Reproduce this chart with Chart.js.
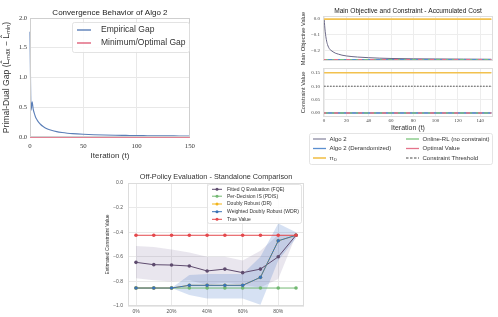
<!DOCTYPE html>
<html><head><meta charset="utf-8">
<script src="https://cdn.jsdelivr.net/npm/chart.js@4.4.1/dist/chart.umd.min.js"></script>
<style>
html,body{margin:0;padding:0;background:#fff;width:498px;height:317px;overflow:hidden;position:relative;}
canvas{position:absolute;}
</style></head><body>
<canvas id="c1" width="200" height="165" style="left:0;top:0"></canvas>
<canvas id="c2a" width="248" height="72" style="left:250px;top:0"></canvas>
<canvas id="c2b" width="248" height="106" style="left:250px;top:62px"></canvas>
<canvas id="c3" width="215" height="165" style="left:100px;top:162px"></canvas>
<script>
// ---------- Chart 1 data: Convergence Behavior of Algo 2 ----------
const gapIterations = [0,1,2,3,4,5,6,7,8,10,12,14,17,20,25,30,35,40,50,60,70,80,90,100,110,120,130,140,150];
const empiricalGap = [1.77,0.45,0.59,0.47,0.40,0.345,0.305,0.275,0.25,0.21,0.18,0.157,0.132,0.113,0.09,0.075,0.064,0.056,0.046,0.039,0.034,0.030,0.027,0.024,0.022,0.020,0.019,0.018,0.017];
const minGapIterations = [0,150];
const minGap = [0,0];
const gapXTicks = [0,50,100,150];
const gapXTickLabels = ['0','50','100','150'];
const gapYTicks = [0,0.5,1.0,1.5,2.0];
const gapYTickLabels = ['0.0','0.5','1.0','1.5','2.0'];

// ---------- Chart 2 data: Main Objective and Constraint ----------
const iterAxis = [0,1,2,3,4,5,6,8,10,13,16,20,25,30,40,50,60,80,100,125,150];
const algo2Objective = [0.0,-0.08,-0.13,-0.16,-0.178,-0.19,-0.197,-0.207,-0.215,-0.222,-0.228,-0.233,-0.237,-0.240,-0.244,-0.247,-0.249,-0.251,-0.252,-0.253,-0.254];
const flatIterations = [0,150];
const derandObjective = [-0.257,-0.257];
const piDObjective = [0.0,0.0];
const onlineRLObjective = [-0.257,-0.257];
const optimalObjective = [-0.257,-0.257];
const algo2Constraint = [0.0,0.0];
const derandConstraint = [0.0,0.0];
const piDConstraint = [0.15,0.15];
const onlineRLConstraint = [0.0,0.0];
const optimalConstraint = [0.0,0.0];
const constraintThreshold = [0.10,0.10];
const iterXTicks = [0,20,40,60,80,100,120,140];
const iterXTickLabels = ['0','20','40','60','80','100','120','140'];
const objYTicks = [-0.2,-0.1,0.0];
const objYTickLabels = ['\u22120.2','\u22120.1','0.0'];
const conYTicks = [0,0.05,0.10,0.15];
const conYTickLabels = ['0.00','0.05','0.10','0.15'];

// ---------- Chart 3 data: Off-Policy Evaluation ----------
const evalFractions = [0,10,20,30,40,50,60,70,80,90];
const fqe      = [-0.645,-0.664,-0.667,-0.675,-0.715,-0.700,-0.729,-0.700,-0.600,-0.425];
const fqeUpper = [-0.512,-0.520,-0.540,-0.565,-0.600,-0.600,-0.630,-0.550,-0.420,-0.425];
const fqeLower = [-0.775,-0.790,-0.800,-0.790,-0.830,-0.810,-0.830,-0.850,-0.780,-0.425];
const pdis     = [-0.854,-0.854,-0.854,-0.854,-0.854,-0.854,-0.854,-0.854,-0.854,-0.854];
const dr       = [-0.854,-0.854,-0.854,-0.832,-0.832,-0.832,-0.832,-0.767,-0.470,-0.425];
const wdr      = [-0.854,-0.854,-0.854,-0.832,-0.832,-0.832,-0.832,-0.767,-0.470,-0.425];
const wdrUpper = [-0.854,-0.854,-0.854,-0.748,-0.740,-0.740,-0.740,-0.600,-0.330,-0.400];
const wdrLower = [-0.854,-0.854,-0.854,-0.910,-0.940,-0.940,-0.940,-0.990,-0.630,-0.450];
const trueValue = [-0.425,-0.425,-0.425,-0.425,-0.425,-0.425,-0.425,-0.425,-0.425,-0.425];
const opeXTicks = [0,20,40,60,80];
const opeXTickLabels = ['0%','20%','40%','60%','80%'];
const opeYTicks = [-1.0,-0.8,-0.6,-0.4,-0.2,0.0];
const opeYTickLabels = ['\u22121.0','\u22120.8','\u22120.6','\u22120.4','\u22120.2','0.0'];

// ---------- helpers ----------
const pts = (xs, ys) => xs.map((x, i) => ({x: x, y: ys[i]}));
const SANS = '"Liberation Sans", Arial, sans-serif';
const SERIF = '"Liberation Serif", "DejaVu Serif", serif';
Chart.defaults.font.family = SANS;
Chart.defaults.color = '#333';
Chart.defaults.animation = false;

const framePlugin = {
  id: 'frame',
  afterDatasetsDraw(chart, args, o) {
    if (!o || !o.color) return;
    const a = chart.chartArea, ctx = chart.ctx;
    ctx.save();
    ctx.strokeStyle = o.color; ctx.lineWidth = o.width || 1;
    ctx.strokeRect(Math.round(a.left) + 0.5, Math.round(a.top) + 0.5,
                   Math.round(a.right - a.left) - 1, Math.round(a.bottom - a.top) - 1);
    ctx.restore();
  }
};
const boxLegend = {
  id: 'boxLegend',
  afterDraw(chart, args, o) {
    if (!o || !o.box) return;
    const ctx = chart.ctx;
    const [bx, by, bw, bh] = o.box;
    ctx.save();
    ctx.beginPath();
    if (ctx.roundRect) ctx.roundRect(bx + 0.5, by + 0.5, bw, bh, o.radius || 2);
    else ctx.rect(bx + 0.5, by + 0.5, bw, bh);
    ctx.fillStyle = 'rgba(255,255,255,0.85)';
    ctx.fill();
    ctx.strokeStyle = o.borderColor || '#dddddd'; ctx.lineWidth = 0.8; ctx.stroke();
    const items = chart.data.datasets.filter(d => d.inLegend !== false);
    const nRows = o.rows.length;
    items.forEach((d, i) => {
      const x = o.cols[Math.floor(i / nRows)], y = o.rows[i % nRows];
      ctx.beginPath();
      ctx.setLineDash(d.legendDash || d.borderDash || []);
      ctx.strokeStyle = d.borderColor;
      ctx.lineWidth = d.legendWidth || d.borderWidth || 1;
      ctx.moveTo(x, y); ctx.lineTo(x + o.lineLen, y); ctx.stroke();
      ctx.setLineDash([]);
      if (o.marker) {
        ctx.beginPath(); ctx.arc(x + o.lineLen / 2, y, o.markerR, 0, 2 * Math.PI);
        ctx.fillStyle = d.pointBackgroundColor || d.borderColor; ctx.fill();
      }
      ctx.fillStyle = o.color || '#333';
      ctx.textBaseline = 'middle'; ctx.textAlign = 'left';
      const f = o.font;
      ctx.font = f.size + 'px ' + f.family;
      const tx = x + o.lineLen + o.gap;
      const parts = d.label.split('_');
      ctx.fillText(parts[0], tx, y);
      if (parts[1]) {
        const w = ctx.measureText(parts[0]).width;
        ctx.font = (f.size * 0.7) + 'px ' + f.family;
        ctx.fillText(parts[1], tx + w + 0.3, y + f.size * 0.3);
      }
    });
    ctx.restore();
  }
};
Chart.register(framePlugin, boxLegend);

const fixW = w => s => { s.width = w; };
const fixH = h => s => { s.height = h; };
const setTicks = vals => s => { s.ticks = vals.map(v => ({value: v})); };
const titleAxis = (text, h, size, padTop, color) => ({
  type: 'linear', position: 'top', display: true, min: 0, max: 1,
  afterFit: fixH(h),
  ticks: {display: false}, grid: {display: false, drawTicks: false}, border: {display: false},
  title: {display: true, text: text, color: color || '#222', font: {size: size, family: SANS}, padding: {top: padTop, bottom: 0}}
});
const baseOpts = {
  responsive: false, animation: false, events: [],
  plugins: {legend: {display: false}, tooltip: {enabled: false}, title: {display: false}}
};
const XY = {xAxisID: 'x', yAxisID: 'y'};

// ---------- Chart 1 ----------
new Chart(document.getElementById('c1'), {
  type: 'line',
  data: {datasets: [
    Object.assign({label: 'Empirical Gap', data: pts(gapIterations, empiricalGap), borderColor: '#5b7fb8', borderWidth: 1.1,
     legendWidth: 1.4, pointRadius: 0, cubicInterpolationMode: 'monotone', clip: false, order: 2}, XY),
    Object.assign({label: 'Minimum/Optimal Gap', data: pts(minGapIterations, minGap), borderColor: '#e0607a', borderWidth: 1.4,
     pointRadius: 0, clip: false, order: 1}, XY)
  ]},
  options: Object.assign({}, baseOpts, {
    layout: {padding: {left: 0, right: 6, top: 0, bottom: 0}},
    plugins: Object.assign({}, baseOpts.plugins, {
      frame: {color: '#cfcfcf', width: 1},
      boxLegend: {box: [72, 22, 117, 30], rows: [30, 43], cols: [77], lineLen: 14, gap: 10,
                  font: {size: 8.5, family: SANS}, color: '#333', borderColor: '#dcdcdc'}
    }),
    scales: {
      x: {type: 'linear', min: 0, max: 150, afterFit: fixH(28), afterBuildTicks: setTicks(gapXTicks),
          grid: {color: '#e8e8e8', drawTicks: false}, border: {display: false},
          ticks: {autoSkip: false, maxRotation: 0, padding: 5, color: '#333', font: {size: 6.8, family: SERIF},
                  callback: (v, i) => gapXTickLabels[i]},
          title: {display: true, text: 'Iteration (t)', color: '#333', font: {size: 8, family: SANS}, padding: {top: 0, bottom: 4.7}}},
      y: {type: 'linear', min: 0, max: 2, afterFit: fixW(30), afterBuildTicks: setTicks(gapYTicks),
          grid: {color: '#e8e8e8', drawTicks: false}, border: {display: false},
          ticks: {autoSkip: false, padding: 3, color: '#333', font: {size: 6.5, family: SERIF},
                  callback: (v, i) => gapYTickLabels[i]},
          title: {display: true, text: 'Primal-Dual Gap (L\u0302\u2098\u2090\u2093 \u2212 L\u0302\u2098\u1D62\u2099)', color: '#333',
                  font: {size: 8.6, family: SANS}, padding: {top: 1, bottom: 0}}},
      xt: titleAxis('Convergence Behavior of Algo 2', 18, 8, 7.7)
    }
  })
});

// ---------- Chart 2 colours ----------
const cAlgo2 = '#6b6987', cDerand = '#5b8fd0', cPiD = '#f2c14e', cOnline = '#7cc47c', cOptimal = '#e5738a', cThresh = '#333333';

// ---------- Chart 2 top ----------
new Chart(document.getElementById('c2a'), {
  type: 'line',
  data: {datasets: [
    Object.assign({label: 'Algo 2', data: pts(iterAxis, algo2Objective), borderColor: cAlgo2, borderWidth: 1, pointRadius: 0, cubicInterpolationMode: 'monotone', order: 5}, XY),
    Object.assign({label: 'Algo 2 (Derandomized)', data: pts(flatIterations, derandObjective), borderColor: cDerand, borderWidth: 1.3, pointRadius: 0, order: 4}, XY),
    Object.assign({label: 'π_D', data: pts(flatIterations, piDObjective), borderColor: cPiD, borderWidth: 1.6, pointRadius: 0, order: 3}, XY),
    Object.assign({label: 'Online-RL (no constraint)', data: pts(flatIterations, onlineRLObjective), borderColor: cOnline, borderWidth: 1.3, borderDash: [4, 4], pointRadius: 0, order: 2}, XY),
    Object.assign({label: 'Optimal Value', data: pts(flatIterations, optimalObjective), borderColor: cOptimal, borderWidth: 1.3, borderDash: [4, 8], borderDashOffset: 2, pointRadius: 0, order: 1}, XY)
  ]},
  options: Object.assign({}, baseOpts, {
    layout: {padding: {left: 48, right: 5, top: 0, bottom: 10}},
    plugins: Object.assign({}, baseOpts.plugins, {frame: {color: '#dddddd', width: 1}}),
    scales: {
      x: {type: 'linear', min: -1, max: 151.5, afterFit: fixH(1), afterBuildTicks: setTicks(iterXTicks),
          grid: {color: '#ededed', drawTicks: false}, border: {display: false}, ticks: {display: false}},
      y: {type: 'linear', min: -0.265, max: 0.02, afterFit: fixW(25), afterBuildTicks: setTicks(objYTicks),
          grid: {color: '#ededed', drawTicks: false}, border: {display: false},
          ticks: {autoSkip: false, padding: 3, color: '#444', font: {size: 5, family: SERIF}, callback: (v, i) => objYTickLabels[i]},
          title: {display: true, text: 'Main Objective Value', color: '#333', font: {size: 5.7, family: SANS}, padding: {top: 1.6, bottom: 0}}},
      xt: titleAxis('Main Objective and Constraint - Accumulated Cost', 16, 6.6, 7.6)
    }
  })
});

// ---------- Chart 2 bottom ----------
new Chart(document.getElementById('c2b'), {
  type: 'line',
  data: {datasets: [
    Object.assign({label: 'Algo 2', data: pts(flatIterations, algo2Constraint), borderColor: cAlgo2, borderWidth: 1, pointRadius: 0, order: 6}, XY),
    Object.assign({label: 'Algo 2 (Derandomized)', data: pts(flatIterations, derandConstraint), borderColor: cDerand, borderWidth: 1.3, pointRadius: 0, order: 5}, XY),
    Object.assign({label: 'π_D', data: pts(flatIterations, piDConstraint), borderColor: cPiD, borderWidth: 1.6, pointRadius: 0, order: 4}, XY),
    Object.assign({label: 'Online-RL (no constraint)', data: pts(flatIterations, onlineRLConstraint), borderColor: cOnline, borderWidth: 1.3, borderDash: [4, 4], legendDash: [], pointRadius: 0, order: 3}, XY),
    Object.assign({label: 'Optimal Value', data: pts(flatIterations, optimalConstraint), borderColor: cOptimal, borderWidth: 1.3, borderDash: [4, 8], borderDashOffset: 2, legendDash: [], pointRadius: 0, order: 2}, XY),
    Object.assign({label: 'Constraint Threshold', data: pts(flatIterations, constraintThreshold), borderColor: cThresh, borderWidth: 0.9, borderDash: [1.5, 1.5], legendDash: [2.5, 1.5], pointRadius: 0, order: 1}, XY)
  ]},
  options: Object.assign({}, baseOpts, {
    layout: {padding: {left: 48, right: 5, top: 6, bottom: 35}},
    plugins: Object.assign({}, baseOpts.plugins, {
      frame: {color: '#dddddd', width: 1},
      boxLegend: {box: [59, 71, 183, 31], rows: [77, 86.5, 96], cols: [63, 156], lineLen: 13, gap: 3.5,
                  font: {size: 6, family: SANS}, color: '#333', borderColor: '#dddddd'}
    }),
    scales: {
      x: {type: 'linear', min: -1, max: 151.5, afterFit: fixH(16), afterBuildTicks: setTicks(iterXTicks),
          grid: {color: '#ededed', drawTicks: false}, border: {display: false},
          ticks: {autoSkip: false, maxRotation: 0, padding: 1, color: '#444', font: {size: 5, family: SERIF}, callback: (v, i) => iterXTickLabels[i]},
          title: {display: true, text: 'Iteration (t)', color: '#333', font: {size: 7, family: SANS}, padding: {top: 0, bottom: 0.3}}},
      y: {type: 'linear', min: -0.015, max: 0.168, afterFit: fixW(25), afterBuildTicks: setTicks(conYTicks),
          grid: {color: '#ededed', drawTicks: false}, border: {display: false},
          ticks: {autoSkip: false, padding: 3, color: '#444', font: {size: 5, family: SERIF}, callback: (v, i) => conYTickLabels[i]},
          title: {display: true, text: 'Constraint Value', color: '#333', font: {size: 5.7, family: SANS}, padding: {top: 2, bottom: 0}}}
    }
  })
});

// ---------- Chart 3 ----------
const cFQE = '#5e4b6e', cPDIS = '#72b872', cDR = '#f2b51c', cWDR = '#3a73b5', cTrue = '#e4484c';
const lineDs = (label, ys, color, order) => Object.assign({
  label: label, data: pts(evalFractions, ys), borderColor: color, backgroundColor: color, pointBackgroundColor: color,
  borderWidth: 1, pointRadius: 1.8, pointBorderWidth: 0, order: order
}, XY);
const bandDs = (ys, fill, color, order) => Object.assign({
  label: 'band', inLegend: false, data: pts(evalFractions, ys), borderWidth: 0, borderColor: 'rgba(0,0,0,0)',
  pointRadius: 0, fill: fill, backgroundColor: color, order: order
}, XY);
new Chart(document.getElementById('c3'), {
  type: 'line',
  data: {datasets: [
    lineDs('Fitted Q Evaluation (FQE)', fqe, cFQE, 5),
    lineDs('Per-Decision IS (PDIS)', pdis, cPDIS, 4),
    lineDs('Doubly Robust (DR)', dr, cDR, 3),
    lineDs('Weighted Doubly Robust (WDR)', wdr, cWDR, 2),
    lineDs('True Value', trueValue, cTrue, 1),
    bandDs(fqeUpper, false, 'rgba(0,0,0,0)', 9),
    bandDs(fqeLower, '-1', 'rgba(120,100,150,0.16)', 8),
    bandDs(wdrUpper, false, 'rgba(0,0,0,0)', 7),
    bandDs(wdrLower, '-1', 'rgba(70,120,200,0.22)', 6)
  ]},
  options: Object.assign({}, baseOpts, {
    layout: {padding: {left: 0, right: 11, top: 0, bottom: 0}},
    plugins: Object.assign({}, baseOpts.plugins, {
      frame: {color: '#dcdcdc', width: 1},
      boxLegend: {box: [107, 22, 94, 39], rows: [27.3, 34.2, 42, 49.7, 57.3], cols: [112], lineLen: 10, gap: 5,
                  marker: true, markerR: 1.5, font: {size: 5, family: SANS}, color: '#333', borderColor: '#dddddd'}
    }),
    scales: {
      x: {type: 'linear', min: -4.5, max: 94.5, afterFit: fixH(21), afterBuildTicks: setTicks(opeXTicks),
          grid: {color: '#e9e9e9', drawTicks: false}, border: {display: false},
          ticks: {autoSkip: false, maxRotation: 0, padding: 3, color: '#555', font: {size: 5, family: SANS}, callback: (v, i) => opeXTickLabels[i]},
          title: {display: true, text: 'Proportion of Data Set Reserved for Evaluation', color: '#333', font: {size: 5.5, family: SANS}, padding: {top: 0, bottom: 4.2}}},
      y: {type: 'linear', min: -1.0, max: 0.0, afterFit: fixW(28), afterBuildTicks: setTicks(opeYTicks),
          grid: {color: '#e9e9e9', drawTicks: false}, border: {display: false},
          ticks: {autoSkip: false, padding: 5, color: '#555', font: {size: 5, family: SANS}, callback: (v, i) => opeYTickLabels[i]},
          title: {display: true, text: 'Estimated Constraint Value', color: '#333', font: {size: 5, family: SANS}, padding: {top: 5, bottom: 0}}},
      xt: titleAxis('Off-Policy Evaluation - Standalone Comparison', 21, 7.3, 10.3, '#333')
    }
  })
});
</script>
</body></html>
